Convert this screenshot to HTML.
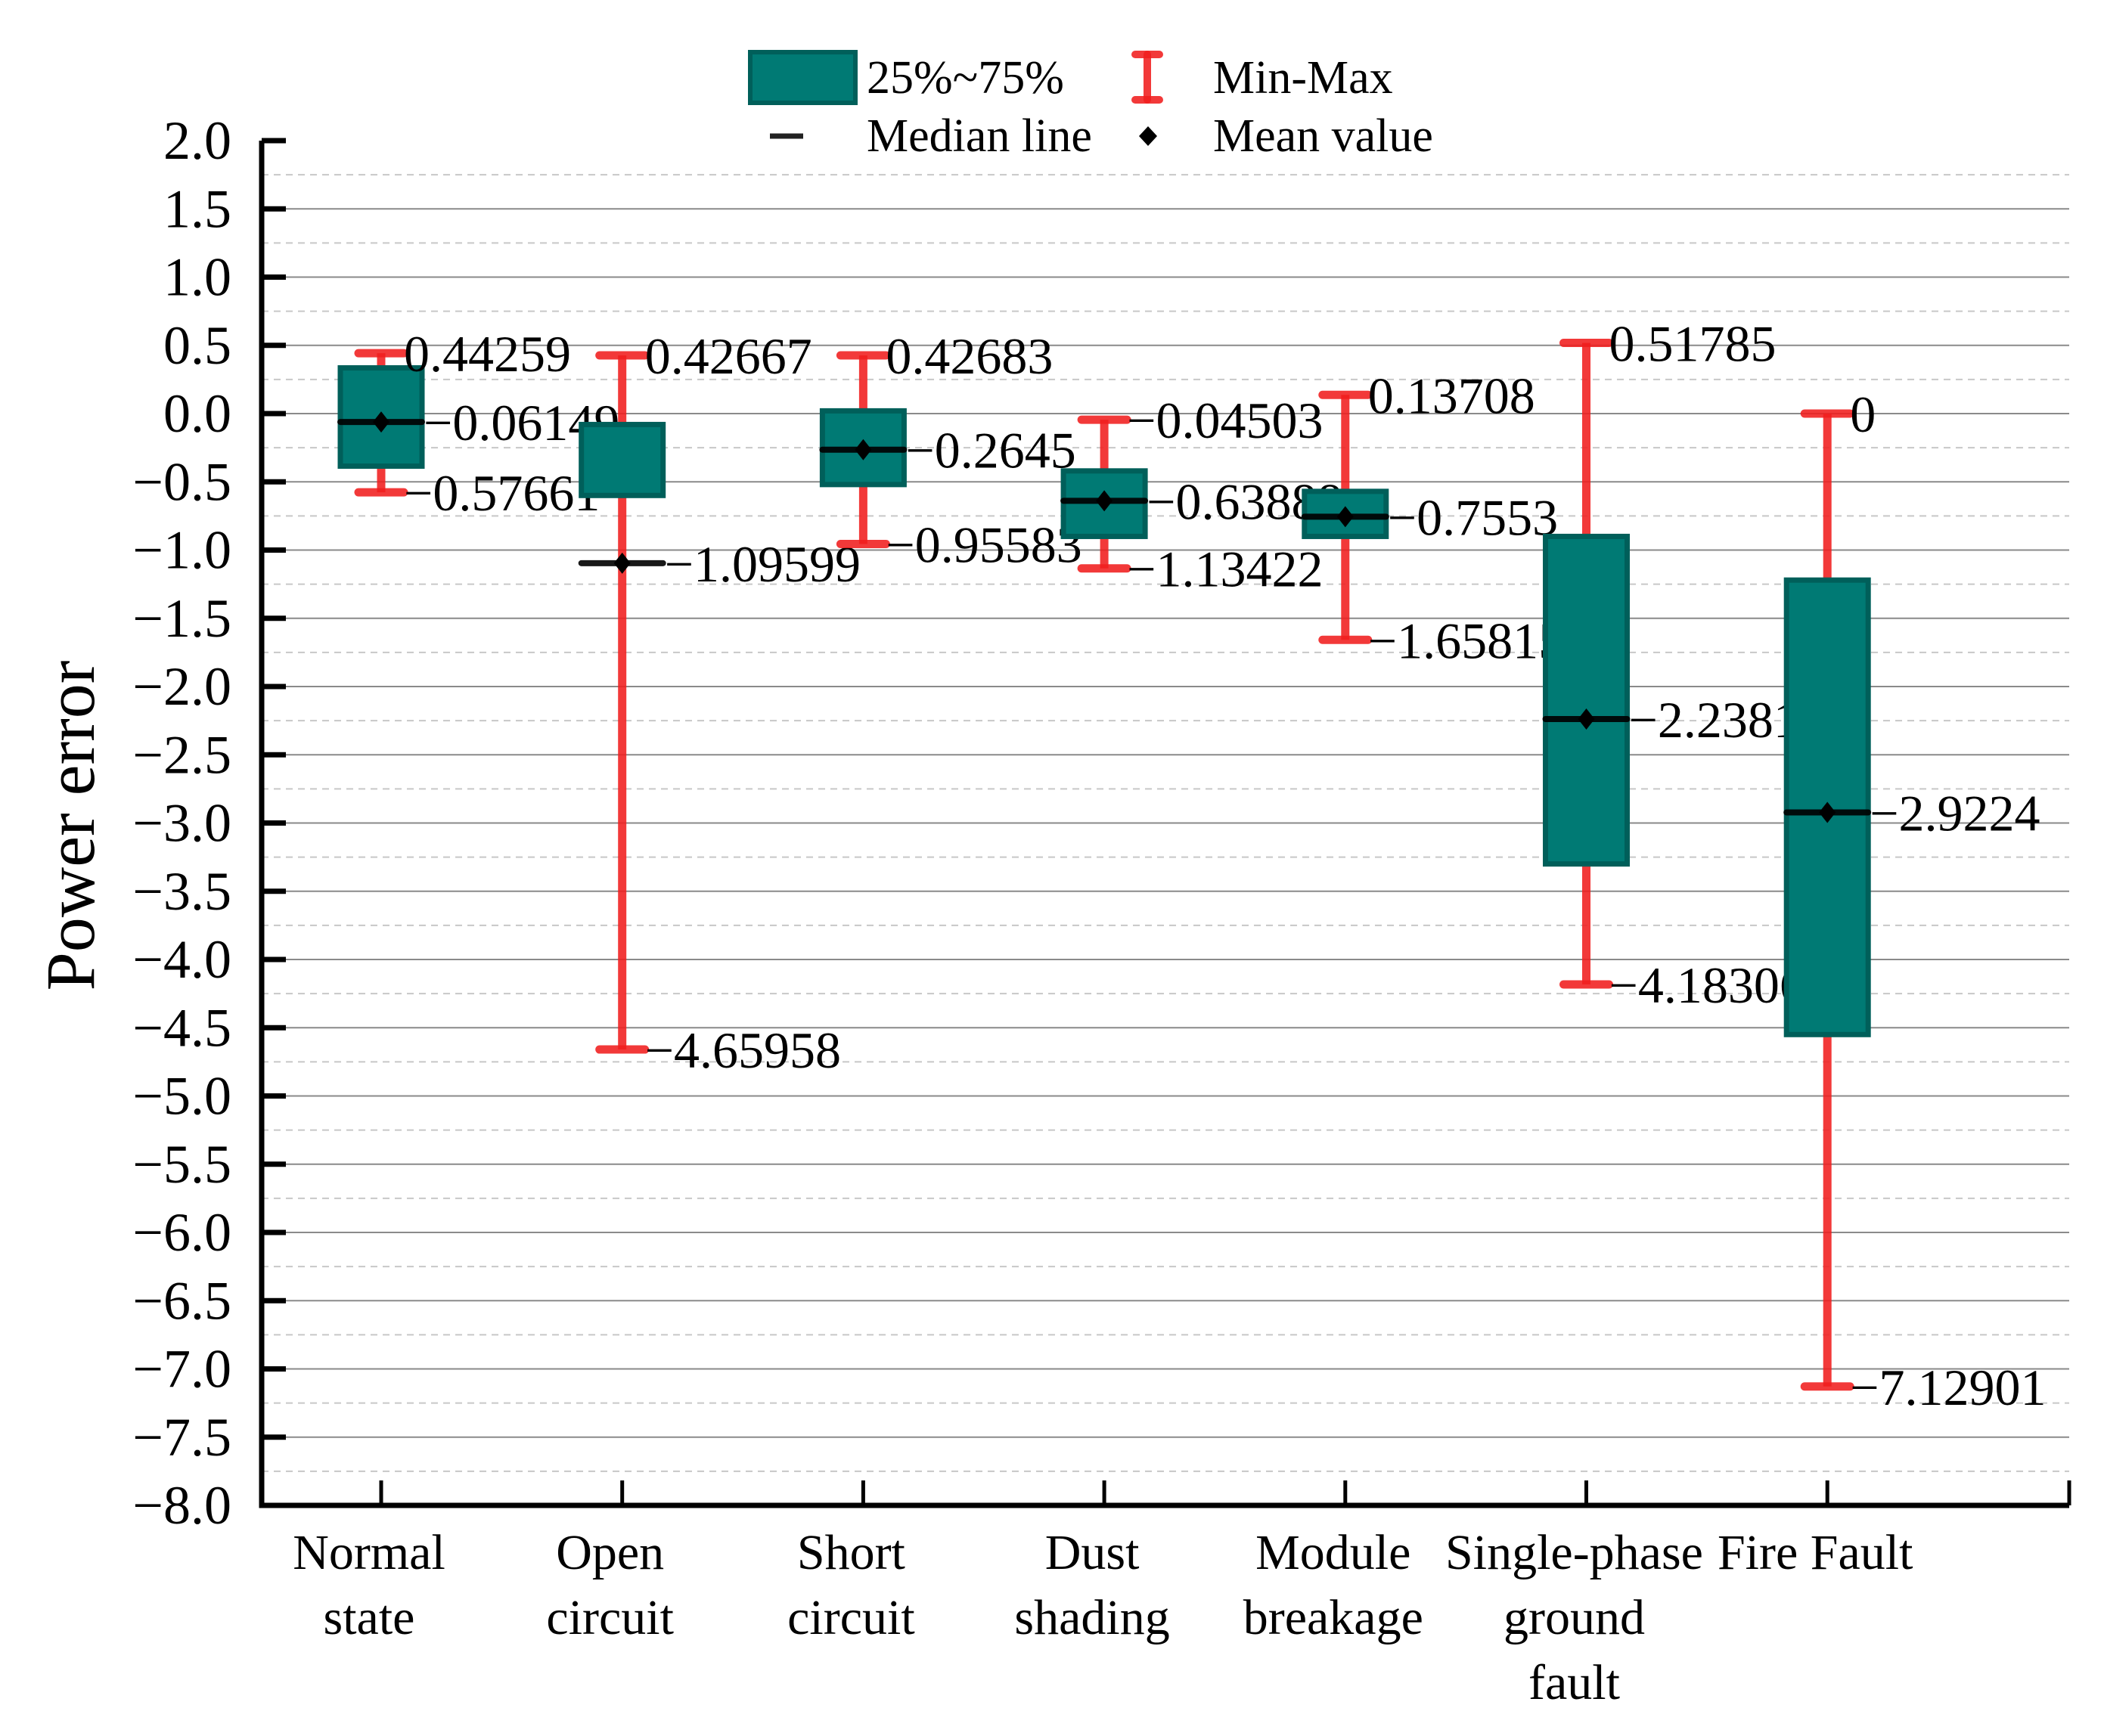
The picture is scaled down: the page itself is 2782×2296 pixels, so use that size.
<!DOCTYPE html>
<html><head><meta charset="utf-8"><style>
body{margin:0;background:#fff}
svg text{font-family:"Liberation Serif",serif;fill:#000}
</style></head><body>
<svg id="chart" width="2782" height="2291" xmlns="http://www.w3.org/2000/svg"></svg>
<script>
const categories=[["Normal","state"],["Open","circuit"],["Short","circuit"],["Dust","shading"],["Module","breakage"],["Single-phase","ground","fault"],["Fire Fault"]];
const q1=[-0.385,-0.6,-0.52,-0.9,-0.9,-3.3,-4.55];
const q3=[0.335,-0.08,0.02,-0.42,-0.57,-0.9,-1.22];
const medians=[-0.06149,-1.09599,-0.2645,-0.63888,-0.7553,-2.23814,-2.9224];
const means=[-0.06149,-1.09599,-0.2645,-0.63888,-0.7553,-2.23814,-2.9224];
const mins=[-0.57661,-4.65958,-0.95583,-1.13422,-1.65815,-4.18306,-7.12901];
const maxs=[0.44259,0.42667,0.42683,-0.04503,0.13708,0.51785,0];
const maxLabels=["0.44259","0.42667","0.42683","\u22120.04503","0.13708","0.51785","0"];
const minLabels=["\u22120.57661","\u22124.65958","\u22120.95583","\u22121.13422","\u22121.65815","\u22124.18306","\u22127.12901"];
const medLabels=["\u22120.06149","\u22121.09599","\u22120.2645","\u22120.63888","\u22120.7553","\u22122.23814","\u22122.9224"];
const yTicks=[2.0,1.5,1.0,0.5,0.0,-0.5,-1.0,-1.5,-2.0,-2.5,-3.0,-3.5,-4.0,-4.5,-5.0,-5.5,-6.0,-6.5,-7.0,-7.5,-8.0];

const NS="http://www.w3.org/2000/svg";
const svg=document.getElementById('chart');
const X0=346,X1=2736,Y0=186,Y1=1991,yMax=2,yMin=-8;
const y=v=>Y0+(yMax-v)/(yMax-yMin)*(Y1-Y0);
const x=i=>504+i*318.7;
function mk(tag,attrs,parent){const e=document.createElementNS(NS,tag);for(const k in attrs)e.setAttribute(k,attrs[k]);(parent||svg).appendChild(e);return e;}
const fmt=v=>(v<0?"\u2212":"")+Math.abs(v).toFixed(1);

for(let i=0;i<yTicks.length;i++){
  const v=yTicks[i];
  if(v<yMax){const g=mk('line',{x1:X0,x2:X1,y1:y(v),y2:y(v),stroke:'#8a8a8a','stroke-width':2});
  }
  if(v>yMin){const vm=v-0.25;const d=mk('line',{x1:X0,x2:X1,y1:y(vm),y2:y(vm),stroke:'#c8c8c8','stroke-width':2,'stroke-dasharray':'9 7'});
  }
  const tk=mk('line',{x1:X0,x2:X0+32,y1:y(v),y2:y(v),stroke:'#000','stroke-width':7});
  
  const t=mk('text',{x:X0-40,y:y(v)+24,'font-size':72,'text-anchor':'end'});t.textContent=fmt(v);
  
}
const ax=mk('path',{d:`M${X0},${Y0} V${Y1} H${X1}`,stroke:'#000','stroke-width':7,fill:'none'});

for(let i=0;i<=categories.length;i++){
  const xx=i<categories.length?x(i):X1;
  const tk=mk('line',{x1:xx,x2:xx,y1:Y1,y2:Y1-33,stroke:'#000','stroke-width':5});
  
}
for(let i=0;i<categories.length;i++){
  const cx=x(i),g=mk('g',{});
  
  const red='rgba(240,30,30,0.88)';
  mk('line',{x1:cx,x2:cx,y1:y(maxs[i]),y2:y(q3[i]),stroke:red,'stroke-width':11},g);
  mk('line',{x1:cx,x2:cx,y1:y(q1[i]),y2:y(mins[i]),stroke:red,'stroke-width':11},g);
  mk('line',{x1:cx-30,x2:cx+30,y1:y(maxs[i]),y2:y(maxs[i]),stroke:red,'stroke-width':11,'stroke-linecap':'round'},g);
  mk('line',{x1:cx-30,x2:cx+30,y1:y(mins[i]),y2:y(mins[i]),stroke:red,'stroke-width':11,'stroke-linecap':'round'},g);
  mk('rect',{x:cx-54,y:y(q3[i]),width:108,height:y(q1[i])-y(q3[i]),fill:'#007a74',stroke:'#005f5a','stroke-width':7},g);
  mk('line',{x1:cx-54,x2:cx+54,y1:y(medians[i]),y2:y(medians[i]),stroke:'#000','stroke-width':8,'stroke-linecap':'round','opacity':0.9},g);
  const m=y(means[i]);
  mk('path',{d:`M${cx},${m-14} L${cx+11},${m} L${cx},${m+14} L${cx-11},${m} Z`,fill:'#000'},g);
  const t1=mk('text',{x:cx+30,y:y(maxs[i])+24,'font-size':68},g);t1.textContent=maxLabels[i];
  
  const t2=mk('text',{x:cx+30,y:y(mins[i])+24,'font-size':68},g);t2.textContent=minLabels[i];
  
  const t3=mk('text',{x:cx+56,y:y(medians[i])+24,'font-size':68},g);t3.textContent=medLabels[i];
  
  categories[i].forEach((ln,j)=>{
    const t=mk('text',{x:cx-16,y:2075+j*86,'font-size':66,'text-anchor':'middle'});t.textContent=ln;
    
  });
}
</script>
<svg style="position:absolute;left:0;top:0" width="2782" height="2291">
<text transform="translate(124,1092) rotate(-90)" text-anchor="middle" font-size="92" font-family="Liberation Serif, serif">Power error</text>
<g font-family="Liberation Serif, serif" font-size="62">
<rect x="992" y="69" width="139" height="67" fill="#007a74" stroke="#005f5a" stroke-width="6"/>
<text x="1146" y="123">25%~75%</text>
<g stroke="rgba(240,30,30,0.88)" stroke-width="10" stroke-linecap="round"><line x1="1501" x2="1533" y1="72" y2="72"/><line x1="1501" x2="1533" y1="132" y2="132"/><line x1="1517" x2="1517" y1="72" y2="132"/></g>
<text x="1604" y="123">Min-Max</text>
<line x1="1018" x2="1062" y1="180" y2="180" stroke="#222" stroke-width="7"/>
<text x="1146" y="200">Median line</text>
<path d="M1518,167 L1530,180 L1518,193 L1506,180 Z" fill="#000"/>
<text x="1604" y="200">Mean value</text>
</g>
</svg>
</body></html>
